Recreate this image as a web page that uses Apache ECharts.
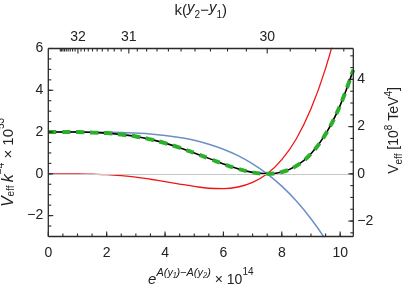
<!DOCTYPE html>
<html><head><meta charset="utf-8">
<script src="https://cdn.jsdelivr.net/npm/echarts@6/dist/echarts.min.js"></script>
<style>html,body{margin:0;padding:0;background:#fff}#c{width:402px;height:289px}</style>
</head><body><div id="c"></div>
<script>
// x values: e^{A(y1)-A(y2)} x 10^14
const xVals   = [0, 0.5, 1, 1.5, 2, 2.5, 3, 3.5, 4, 4.5, 5, 5.5, 6, 6.5, 7, 7.5, 8, 8.5, 9, 9.5, 10, 10.45];
// V_eff k^-4 x 10^53
const blueVals  = [2.00, 2.00, 2.00, 2.00, 1.99, 1.98, 1.95, 1.91, 1.84, 1.74, 1.61, 1.42, 1.18, 0.87, 0.48, 0.00, -0.59, -1.30, -2.15, -3.15, -4.32, -5.54];
const redVals   = [0.00, 0.00, 0.00, -0.02, -0.04, -0.09, -0.16, -0.26, -0.37, -0.49, -0.60, -0.69, -0.71, -0.63, -0.41, 0.00, 0.68, 1.68, 3.11, 5.05, 7.60, 10.52];
const blackVals = [2.00, 2.00, 2.00, 1.98, 1.95, 1.88, 1.79, 1.65, 1.47, 1.25, 1.00, 0.74, 0.47, 0.24, 0.07, 0.00, 0.09, 0.38, 0.96, 1.90, 3.28, 4.98];
const greenVals = blackVals.slice();
// tick labels
const bottomTicks = [0, 2, 4, 6, 8, 10];
const leftTicks = [-2, 0, 2, 4, 6];
const rightTicks = [-2, 0, 2, 4];
const topLabels = [30, 31, 32];          // k(y2-y1) major ticks
const topMinorRange = [29.7, 33.0];      // minor ticks every 0.1

// top axis mapping: x = 7.5 * exp(30 - t)
const tToX = t => 7.5 * Math.exp(30 - t);
const topMajorPos = topLabels.map(tToX);
const topMinorPos = [];
for (let i = Math.round(topMinorRange[0]*10); i <= Math.round(topMinorRange[1]*10); i++) {
  if (i % 10 !== 0) topMinorPos.push(tToX(i/10));
}
const steps = (a, b, s) => { const r = []; for (let v = a; v <= b + 1e-9; v += s) r.push(Math.round(v*100)/100); return r; };

const XMAX = 10.45, YMIN = -3, YMAX = 6, RSCALE = 0.885;
const pairs = arr => xVals.map((x, i) => [x, arr[i]]);
const font = 'Liberation Sans, Arial, sans-serif';
const C = '#222';
const FRAME = '#2a2a2a';
const fmt = v => v < 0 ? '−' + Math.abs(v) : String(v);
const noLine = { show: false, onZero: false };
const G = { left: 48.3, right: 48.7, top: 48.5, bottom: 52.5, outerBoundsMode: 'none', containLabel: false, show: false };

// tick sets: [axis side, value list, length]
const tickSets = [
  ['bottom', bottomTicks, 5], ['bottom', steps(0.5, 10, 0.5), 3],
  ['top', topMajorPos, 5], ['top', topMinorPos, 3],
  ['left', leftTicks, 5], ['left', steps(-2.5, 5.5, 0.5), 3],
  ['right', rightTicks.map(v => v / RSCALE), 5], ['right', steps(-2.5, 5, 0.5).map(v => v / RSCALE), 3]
];

function renderFrame(params, api) {
  const p00 = api.coord([0, YMIN]), p11 = api.coord([XMAX, YMAX]);
  const x0 = p00[0], x1 = p11[0], y0 = p00[1], y1 = p11[1];
  const st = { stroke: FRAME, lineWidth: 1.3 };
  const children = [
    { type: 'line', shape: { x1: x0, y1: y0, x2: x1, y2: y0 }, style: st },
    { type: 'line', shape: { x1: x0, y1: y1, x2: x1, y2: y1 }, style: st },
    { type: 'line', shape: { x1: x0, y1: y0, x2: x0, y2: y1 }, style: st },
    { type: 'line', shape: { x1: x1, y1: y0, x2: x1, y2: y1 }, style: st }
  ];
  tickSets.forEach(([side, vals, len]) => {
    vals.forEach(v => {
      let shape;
      if (side === 'bottom' || side === 'top') {
        const px = api.coord([v, 0])[0];
        shape = side === 'bottom' ? { x1: px, y1: y0, x2: px, y2: y0 - len } : { x1: px, y1: y1, x2: px, y2: y1 + len };
      } else {
        const py = api.coord([0, v])[1];
        shape = side === 'left' ? { x1: x0, y1: py, x2: x0 + len, y2: py } : { x1: x1, y1: py, x2: x1 - len, y2: py };
      }
      children.push({ type: 'line', shape, style: { stroke: FRAME, lineWidth: 1.1 } });
    });
  });
  return { type: 'group', children };
}

const chart = echarts.init(document.getElementById('c'));
chart.setOption({
  animation: false,
  grid: [G],
  xAxis: [
    {
      type: 'value', position: 'bottom', min: 0, max: XMAX,
      axisLine: noLine, axisTick: { show: false }, splitLine: { show: false },
      axisLabel: { color: C, fontSize: 14, fontFamily: font, margin: 10, customValues: bottomTicks },
      name: '{it|e}{sup|A(y₁)−A(y₂)}{n| × 10}{sup2|14}',
      nameLocation: 'middle', nameGap: 31,
      nameTextStyle: {
        fontFamily: font, color: C,
        rich: {
          it: { fontSize: 15, fontStyle: 'italic', fontFamily: font, lineHeight: 20, verticalAlign: 'bottom' },
          n: { fontSize: 14, fontFamily: font, lineHeight: 20, verticalAlign: 'bottom' },
          sup: { fontSize: 11, fontStyle: 'italic', fontFamily: font, lineHeight: 12, verticalAlign: 'top' },
          sup2: { fontSize: 10, fontFamily: font, lineHeight: 12, verticalAlign: 'top' }
        }
      }
    },
    {
      type: 'value', position: 'top', min: 0, max: XMAX,
      axisLine: noLine, axisTick: { show: false }, splitLine: { show: false },
      axisLabel: { color: C, fontSize: 14, fontFamily: font, margin: 4,
        customValues: topMajorPos,
        formatter: v => String(Math.round(30 - Math.log(v / 7.5))) },
      name: 'k({it|y}{sub|2}−{it|y}{sub|1})',
      nameLocation: 'middle', nameGap: 28,
      nameTextStyle: {
        fontFamily: font, fontSize: 15, color: C, lineHeight: 20,
        rich: {
          it: { fontSize: 15, fontStyle: 'italic', fontFamily: font, lineHeight: 20, verticalAlign: 'top' },
          sub: { fontSize: 10, fontFamily: font, lineHeight: 13, verticalAlign: 'bottom' }
        }
      }
    }
  ],
  yAxis: [
    {
      type: 'value', position: 'left', min: YMIN, max: YMAX,
      axisLine: noLine, axisTick: { show: false }, splitLine: { show: false },
      axisLabel: { color: C, fontSize: 14, fontFamily: font, margin: 5, customValues: leftTicks, formatter: fmt },
      name: '{it|V}{sub|eff} {it|k}{sup|−4}{n| × 10}{sup|53}',
      nameLocation: 'middle', nameGap: 27, nameRotate: 90,
      nameTextStyle: {
        fontFamily: font, color: C, padding: [0, 40, 0, 0],
        rich: {
          it: { fontSize: 16, fontStyle: 'italic', fontFamily: font, lineHeight: 20, verticalAlign: 'bottom' },
          n: { fontSize: 15, fontFamily: font, lineHeight: 20, verticalAlign: 'bottom' },
          sub: { fontSize: 10, fontFamily: font, lineHeight: 9, verticalAlign: 'bottom' },
          sup: { fontSize: 10, fontFamily: font, lineHeight: 12, verticalAlign: 'top' }
        }
      }
    },
    {
      type: 'value', position: 'right', min: YMIN * RSCALE, max: YMAX * RSCALE,
      axisLine: noLine, axisTick: { show: false }, splitLine: { show: false },
      axisLabel: { color: C, fontSize: 14, fontFamily: font, margin: 4, customValues: rightTicks, formatter: fmt },
      name: 'V{sub|eff} [10{sup|8} TeV{sup|4}]',
      nameLocation: 'middle', nameGap: 28, nameRotate: 90,
      nameTextStyle: {
        fontFamily: font, fontSize: 14, color: C, lineHeight: 20, padding: [0, 0, 0, 24],
        rich: {
          sub: { fontSize: 10, fontFamily: font, lineHeight: 9, verticalAlign: 'bottom' },
          sup: { fontSize: 10, fontFamily: font, lineHeight: 12, verticalAlign: 'top' }
        }
      }
    }
  ],
  series: [
    {
      type: 'line', data: [], silent: true,
      markLine: { silent: true, symbol: 'none', label: { show: false },
        lineStyle: { color: '#c8c8c8', width: 1, type: 'solid' }, data: [{ yAxis: 0 }] }
    },
    { type: 'line', data: pairs(blueVals), smooth: 0.4, showSymbol: false, lineStyle: { color: '#6b8fc7', width: 1.5 }, z: 3 },
    { type: 'line', data: pairs(redVals), smooth: 0.4, showSymbol: false, lineStyle: { color: '#f01515', width: 1.3 }, z: 3 },
    { type: 'line', data: pairs(blackVals), smooth: 0.4, showSymbol: false, lineStyle: { color: '#000', width: 1.6 }, z: 4 },
    { type: 'line', data: pairs(greenVals), smooth: 0.4, showSymbol: false, lineStyle: { color: '#2cb02c', width: 4, type: [8, 6] }, z: 5 },
    { type: 'custom', data: [[0, 0]], renderItem: renderFrame, silent: true, clip: false, z: 10 }
  ]
});
</script></body></html>
